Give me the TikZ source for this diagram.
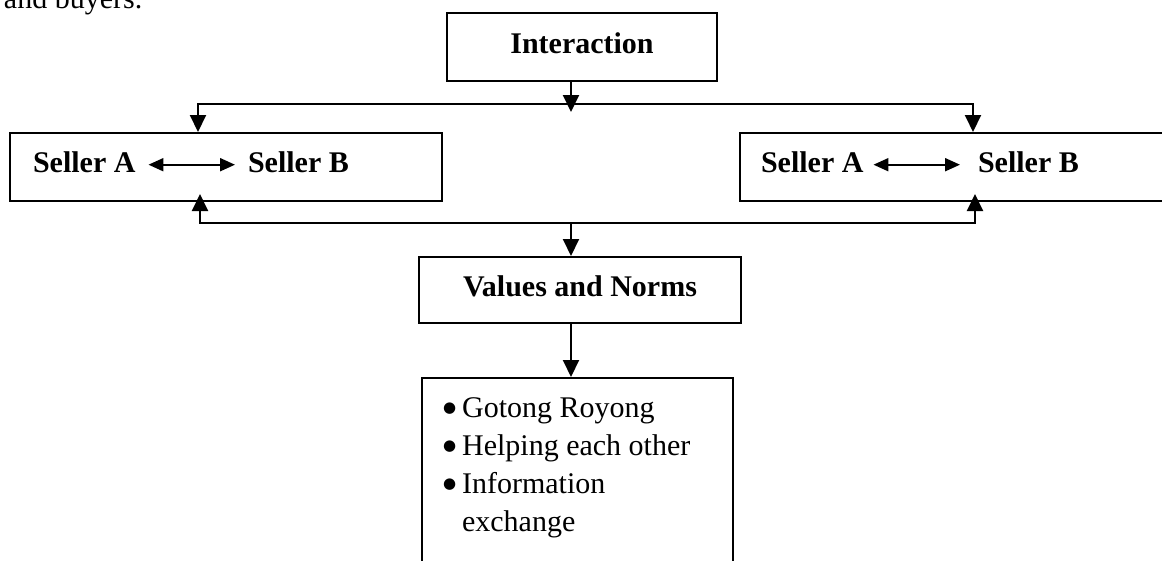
\documentclass[tikz,border=0pt]{standalone}
\usepackage{fontspec}
\setmainfont{Liberation Serif}
\newfontfamily\symfont{DejaVu Sans}
\usetikzlibrary{arrows.meta,calc}
\newcommand{\dotmark}{\raisebox{5pt}{\symfont\fontsize{15}{15}\selectfont ●}}
\begin{document}
\begin{tikzpicture}[x=1pt,y=-1pt,
  line width=2pt,
  box/.style={draw, line width=2pt, inner sep=0pt},
  title/.style={font=\fontsize{30}{36}\selectfont\bfseries},
  lbl/.style={font=\fontsize{30}{36}\selectfont\bfseries, inner sep=0pt, anchor=base west},
  flow/.style={-{Triangle[length=17pt,width=16pt]}},
  twoway/.style={{Triangle[length=15pt,width=13pt]}-{Triangle[length=15pt,width=13pt]}, line width=2pt},
]
\useasboundingbox (0,0) rectangle (1162,560);
\clip (0,0) rectangle (1162,560);

% end of the running text above the figure
\node[font=\fontsize{30}{36}\selectfont, inner sep=0pt, anchor=base west] (tail) at (3,8) {and buyers.};

% boxes
\node[box, title, minimum width=270pt, text height=40pt, text depth=28pt, anchor=base] (inter) at (582,53) {Interaction};
\node[box, minimum width=432pt, minimum height=68pt] (selL) at (226,167) {};
\node[box, minimum width=440pt, minimum height=68pt] (selR) at (960,167) {};
\node[box, title, minimum width=322pt, text height=39pt, text depth=27pt, anchor=base] (vn) at (580,296) {Values and Norms};
\node[box, minimum width=311pt, minimum height=222pt] (list) at (577.5,489) {};

% seller pairs
\node[lbl] (sa1) at (32,172) {Seller A};
\node[lbl] (sb1) at (247,172) {Seller B};
\node[lbl] (sa2) at (760,172) {Seller A};
\node[lbl] (sb2) at (977,172) {Seller B};
\draw[twoway] ([xshift=12pt,yshift=5pt]sa1.mid east) -- ([xshift=-12pt,yshift=5pt]sb1.mid west);
\draw[twoway] ([xshift=9pt,yshift=5pt]sa2.mid east) -- ([xshift=-17pt,yshift=5pt]sb2.mid west);

% list of values
\node[anchor=base west, inner sep=0pt, font=\fontsize{30}{38}\selectfont] (items) at (442,417)
  {\begin{tabular}[t]{@{}l@{\hspace{6pt}}l@{}}
   \dotmark & Gotong Royong\\
   \dotmark & Helping each other\\
   \dotmark & Information\\
            & exchange
   \end{tabular}};

% connectors
\coordinate (hubT) at (571,104);
\coordinate (tl) at (198,104);
\coordinate (tr) at (973,104);
\coordinate (hubB) at (571,223);
\coordinate (bl) at (200,223);
\coordinate (br) at (975,223);
\coordinate (blTip) at ($(bl |- selL.south)+(0,-8)$);
\coordinate (brTip) at ($(br |- selR.south)+(0,-8)$);

\draw[flow] (inter.south -| hubT) -- ($(hubT)+(0,8)$);
\draw[flow] (hubT) -| (tl |- selL.north);
\draw[flow] (hubT) -| (tr |- selR.north);
\draw[flow] (hubB) -| (blTip);
\draw[flow] (hubB) -| (brTip);
\draw[flow] (hubB) -- (hubB |- vn.north);
\draw[flow] (vn.south -| hubB) -- (hubB |- list.north);
\end{tikzpicture}
\end{document}
